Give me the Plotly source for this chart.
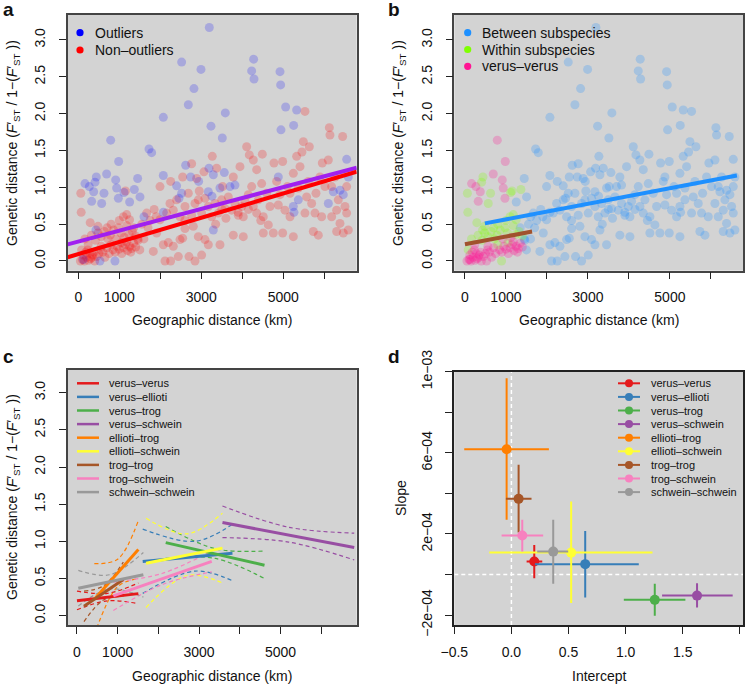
import plotly.graph_objects as go

W, H = 749, 684
def PX(x): return x / W
def PY(y): return 1 - y / H

FONT = "Liberation Sans, Arial, Helvetica, sans-serif"

# ---------------- Panel a/b scatter data (km, genetic distance) ----------------
# outliers, split by comparison class (panel b)
out_vv_x = [789, 984, 691, 163, 268, 374, 325, 911, 935, 976, 528, 120]
out_vv_y = [1.64, 1.35, 1.18, 1.05, 1.01, 0.94, 0.81, 1.10, 0.99, 0.85, 0.0, 0.02]
out_within_x = [407, 439, 569, 626, 1114, 1366, 894, 430]
out_within_y = [1.07, 1.14, 0.78, 0.92, 0.93, 0.97, 0.0, 0.42]
out_between_x = [1252, 1447, 1504, 1602, 3195, 2520, 2992, 2821, 2683, 2073, 4276, 4228, 4285, 4919, 4935,
                 5057, 5325, 5252, 4943, 3236, 3585, 3512, 1724, 1789, 2618, 2073, 2073, 2398, 2455, 2520,
                 2740, 2935, 3187, 3293, 3171, 3260, 3455, 3561, 3699, 3821, 3293, 4878, 5366, 5244, 5260,
                 6098, 6220, 6382, 6463, 6545, 6585]
out_between_y = [0.80, 1.12, 0.87, 0.60, 3.17, 2.70, 2.60, 2.34, 2.12, 1.95, 2.74, 2.58, 2.47, 2.57, 2.39,
                 2.09, 2.05, 1.84, 1.78, 1.83, 2.01, 1.67, 1.52, 1.47, 1.30, 1.16, 0.66, 1.02, 0.85, 0.92,
                 1.14, 1.08, 1.26, 1.17, 0.94, 0.88, 0.99, 1.20, 1.01, 1.03, 0.42, 1.14, 0.83, 0.74, 0.66,
                 0.78, 0.94, 0.96, 0.90, 1.38, 1.14]

# non-outliers
non_vv_x = [50, 100, 150, 200, 250, 300, 350, 400, 120, 180, 230, 280, 330, 380, 450, 500, 550, 600, 650,
            700, 750, 850, 900, 950, 1000, 1100, 1150, 1200, 1250, 1300, 1350, 1400, 240, 560, 920, 1120,
            1060, 1180, 1280]
non_vv_y = [0.0, 0.02, 0.0, 0.05, 0.01, 0.03, 0.08, 0.0, 0.08, 0.12, 0.15, 0.10, 0.05, 0.12, 0.06, 0.10,
            0.15, 0.12, 0.05, 0.18, 0.10, 0.15, 0.12, 0.20, 0.16, 0.18, 0.22, 0.14, 0.20, 0.17, 0.24, 0.19,
            0.22, 0.20, 0.30, 0.32, 0.10, 0.26, 0.12]
non_within_x = [80, 160, 320, 420, 480, 560, 640, 720, 780, 860, 980, 1040, 1180, 1240, 1320, 1400, 60, 70,
                290, 480, 700, 800, 1000, 1100, 1180, 1250, 800, 1050, 1150]
non_within_y = [0.15, 0.30, 0.35, 0.28, 0.38, 0.33, 0.40, 0.30, 0.35, 0.42, 0.45, 0.38, 0.48, 0.36, 0.40,
                0.34, 0.92, 0.66, 0.52, 0.47, 0.45, 0.50, 0.55, 0.60, 0.63, 0.56, 0.22, 0.25, 0.95]
non_between_x = [1350, 1450, 1500, 1460, 1550, 1600, 1700, 1750, 1850, 1900, 1667, 1829, 1911, 1992, 1992,
                 2114, 2252, 2439, 2699, 2846, 3008, 2073, 2195, 2317, 2480, 2545, 2602, 2805, 2927, 3089,
                 3171, 3455, 3780, 4024, 2154, 2236, 2317, 2398, 2480, 2602, 2683, 2764, 2846, 2927, 3008,
                 3089, 3171, 3252, 3333, 3415, 3496, 3577, 3659, 3740, 3821, 3902, 3984, 4065, 4024, 2252,
                 2545, 2764, 2886, 3065, 3268, 3374, 3520, 3780, 3943, 4106, 4171, 4268, 4350, 4488, 4146,
                 4228, 4268, 4390, 4512, 4593, 4675, 4772, 4837, 4919, 4984, 5041, 5098, 5163, 5244, 5325,
                 5407, 5455, 5488, 5528, 5610, 5634, 5691, 5732, 5797, 5854, 5894, 5951, 6016, 6098, 6122,
                 6138, 6179, 6260, 6301, 6341, 6382, 6447, 6463, 6504, 6545, 6585, 5528, 5244, 4634, 4756,
                 4512, 4350, 4472, 4878, 4984, 5163, 5366, 5569, 5772, 5935, 6179, 6301, 6545, 2600, 3350,
                 3600, 3900, 4150, 4450, 2950, 3500]
non_between_y = [0.45, 0.30, 0.15, 0.28, 0.50, 0.30, 0.45, 0.55, 0.70, 0.60, 0.65, 0.13, 0.38, 0.56, 1.01,
                 0.0, 0.0, 0.06, 0.06, 0.0, 0.08, 0.22, 0.25, 0.20, 0.29, 0.31, 0.44, 0.47, 0.33, 0.29,
                 0.22, 0.22, 0.35, 0.33, 0.65, 0.78, 0.69, 0.83, 0.60, 0.74, 0.92, 0.62, 0.78, 0.83, 0.65,
                 0.85, 0.74, 0.60, 0.78, 0.65, 0.83, 0.71, 0.87, 0.69, 0.78, 0.62, 0.74, 0.81, 0.60, 1.08,
                 1.14, 1.32, 1.12, 1.21, 1.42, 1.26, 1.01, 1.14, 1.28, 1.55, 1.44, 1.37, 1.24, 1.45, 0.90,
                 1.01, 0.74, 0.83, 0.60, 0.92, 0.74, 1.33, 1.08, 0.90, 1.35, 0.69, 1.01, 0.60, 1.19, 1.42,
                 1.28, 1.48, 1.62, 0.65, 1.08, 1.55, 0.78, 0.40, 0.92, 0.35, 1.14, 1.33, 1.01, 1.37, 1.81,
                 1.71, 0.60, 1.14, 0.40, 0.83, 0.51, 1.69, 0.38, 0.74, 1.01, 0.42, 2.03, 0.33, 0.49, 0.38,
                 0.38, 0.65, 1.05, 0.76, 0.38, 0.92, 0.99, 0.87, 0.65, 0.60, 1.01, 0.69, 0.65, 0.55, 0.50,
                 0.58, 0.66, 0.70, 0.55, 0.95, 0.70]

# regression lines (intercept, slope per km)
fit_a_outliers = (0.264, 1.477e-4)
fit_a_non = (0.093, 1.646e-4)
fit_b_between = (0.4585, 1.057e-4, 487, 6634)
fit_b_within = (0.226, 1.06e-4, 0, 1638)

# ---------------- Panel c / d : per comparison ----------------
comparisons = ["verus\u2013verus", "verus\u2013ellioti", "verus\u2013trog", "verus\u2013schwein",
               "ellioti\u2013trog", "ellioti\u2013schwein", "trog\u2013trog", "trog\u2013schwein",
               "schwein\u2013schwein"]
colors = ["#E41A1C", "#377EB8", "#4DAF4A", "#984EA3", "#FF7F00", "#FFFF33", "#A65628", "#F781BF", "#999999"]
intercept = [0.200, 0.646, 1.255, 1.625, -0.042, 0.523, 0.063, 0.095, 0.366]
intercept_lo = [0.133, 0.206, 0.984, 1.319, -0.413, -0.194, -0.048, -0.086, 0.226]
intercept_hi = [0.270, 1.115, 1.523, 1.937, 0.328, 1.235, 0.176, 0.278, 0.497]
slope = [6.4e-5, 5.1e-5, -1.25e-4, -1.04e-4, 6.18e-4, 1.08e-4, 3.73e-4, 1.92e-4, 1.13e-4]
slope_lo = [-1.8e-5, -1.13e-4, -2.04e-4, -1.63e-4, 2.7e-4, -1.41e-4, 2.07e-4, 1.13e-4, -4.6e-5]
slope_hi = [1.46e-4, 2.15e-4, -4.6e-5, -4.3e-5, 9.68e-4, 3.6e-4, 5.41e-4, 2.7e-4, 2.7e-4]
dist_min = [0, 1615, 2180, 3574, 426, 1697, 172, 893, 33]
dist_max = [1508, 3820, 4607, 6811, 1508, 3574, 1139, 3311, 1631]
ci_x = [[0, 750, 1508], [1615, 2900, 3820], [2180, 3400, 4607], [3574, 5200, 6811], [426, 1000, 1508],
        [1697, 2700, 3574], [172, 650, 1139], [893, 2100, 3311], [33, 800, 1631]]
ci_upper = [[0.33, 0.30, 0.44], [1.165, 1.00, 1.23], [1.20, 0.90, 0.87], [1.475, 1.19, 1.11],
            [0.70, 0.76, 1.28], [1.31, 1.10, 1.38], [0.33, 0.40, 0.72], [0.45, 0.57, 0.87],
            [0.61, 0.55, 0.85]]
ci_lower = [[0.08, 0.20, 0.16], [0.30, 0.60, 0.47], [0.77, 0.77, 0.50], [1.05, 0.99, 0.75],
            [-0.26, 0.39, 0.50], [0.11, 0.54, 0.44], [-0.08, 0.21, 0.26], [0.07, 0.42, 0.59],
            [0.13, 0.36, 0.25]]

geo_ticks = [0, 1000, 3000, 5000]
geo_ticktext = ["0", "1000", "3000", "5000"]
geo_minor = [2000, 4000, 6000]
gd_ticks = [0, 0.5, 1.0, 1.5, 2.0, 2.5, 3.0]
gd_ticktext = ["0.0", "0.5", "1.0", "1.5", "2.0", "2.5", "3.0"]
int_ticks = [-0.5, 0, 0.5, 1.0, 1.5, 2.0]
int_ticktext = ["\u22120.5", "0.0", "0.5", "1.0", "1.5", "2.0"]
slope_ticks = [-2e-4, 2e-4, 6e-4, 1e-3]
slope_ticktext = ["\u22122e\u221204", "2e\u221204", "6e\u221204", "1e\u221203"]
slope_minor = [0, 4e-4, 8e-4]

XR_AB = [-259, 6790]
YR_AB = [-0.132, 3.339]
XR_C = [-228, 6872]
YR_C = [-0.1256, 3.305]
XR_D = [-0.5, 2.03]
YR_D = [-2.49e-4, 1.0e-3]

fig = go.Figure()

def rgba(hexc, a):
    h = hexc.lstrip("#")
    return "rgba(%d,%d,%d,%s)" % (int(h[0:2], 16), int(h[2:4], 16), int(h[4:6], 16), a)

# ---- panel a ----
fig.add_trace(go.Scatter(x=non_vv_x + non_within_x + non_between_x, y=non_vv_y + non_within_y + non_between_y,
                         mode="markers", marker=dict(size=9, color=rgba("#FF0000", 0.22), line=dict(width=0)),
                         xaxis="x", yaxis="y", showlegend=False))
fig.add_trace(go.Scatter(x=out_vv_x + out_within_x + out_between_x, y=out_vv_y + out_within_y + out_between_y,
                         mode="markers", marker=dict(size=9, color=rgba("#0000FF", 0.2), line=dict(width=0)),
                         xaxis="x", yaxis="y", showlegend=False))
for (b0, b1), col in [(fit_a_outliers, "#A020F0"), (fit_a_non, "#FF0000")]:
    fig.add_trace(go.Scatter(x=XR_AB, y=[b0 + b1 * XR_AB[0], b0 + b1 * XR_AB[1]], mode="lines",
                             line=dict(color=col, width=4), xaxis="x", yaxis="y", showlegend=False))

# ---- panel b ----
for xs, ys, col in [(out_between_x + non_between_x, out_between_y + non_between_y, "#1E90FF"),
                    (out_within_x + non_within_x, out_within_y + non_within_y, "#7FFF00"),
                    (out_vv_x + non_vv_x, out_vv_y + non_vv_y, "#FF1493")]:
    fig.add_trace(go.Scatter(x=xs, y=ys, mode="markers",
                             marker=dict(size=9, color=rgba(col, 0.25), line=dict(width=0)),
                             xaxis="x2", yaxis="y2", showlegend=False))
for (b0, b1, x0, x1), col in [(fit_b_between, "#1E90FF"), (fit_b_within, "#A0522D")]:
    fig.add_trace(go.Scatter(x=[x0, x1], y=[b0 + b1 * x0, b0 + b1 * x1], mode="lines",
                             line=dict(color=col, width=4), xaxis="x2", yaxis="y2", showlegend=False))

# ---- panel c ----
for i in range(len(comparisons)):
    for arr in (ci_upper[i], ci_lower[i]):
        fig.add_trace(go.Scatter(x=ci_x[i], y=arr, mode="lines",
                                 line=dict(color=colors[i], width=1.2, dash="4px,3px", shape="spline"),
                                 xaxis="x3", yaxis="y3", showlegend=False))
for i in range(len(comparisons)):
    x0, x1 = dist_min[i], dist_max[i]
    fig.add_trace(go.Scatter(x=[x0, x1], y=[intercept[i] + slope[i] * x0, intercept[i] + slope[i] * x1],
                             mode="lines", line=dict(color=colors[i], width=3),
                             xaxis="x3", yaxis="y3", showlegend=False))

# ---- panel d ----
for i in range(len(comparisons)):
    fig.add_trace(go.Scatter(
        x=[intercept[i]], y=[slope[i]], mode="markers",
        marker=dict(size=10, color=colors[i]),
        error_x=dict(type="data", symmetric=False, array=[intercept_hi[i] - intercept[i]],
                     arrayminus=[intercept[i] - intercept_lo[i]], width=0, thickness=2, color=colors[i]),
        error_y=dict(type="data", symmetric=False, array=[slope_hi[i] - slope[i]],
                     arrayminus=[slope[i] - slope_lo[i]], width=0, thickness=2, color=colors[i]),
        xaxis="x4", yaxis="y4", showlegend=False))

shapes = []
shapes.append(dict(type="line", xref="x4", yref="y4", x0=0, x1=0, y0=YR_D[0], y1=YR_D[1],
                   line=dict(color="white", width=1.5, dash="4px,3px"), layer="below"))
shapes.append(dict(type="line", xref="x4", yref="y4", x0=XR_D[0], x1=XR_D[1], y0=0, y1=0,
                   line=dict(color="white", width=1.5, dash="4px,3px"), layer="below"))

annotations = []
def text(x, y, s, size=14, xanchor="center", yanchor="middle", angle=0, bold=False, color="#111"):
    annotations.append(dict(x=PX(x), y=PY(y), xref="paper", yref="paper", text=("<b>%s</b>" % s) if bold else s,
                            showarrow=False, xanchor=xanchor, yanchor=yanchor, textangle=angle,
                            font=dict(family=FONT, size=size, color=color)))

def dot(cx, cy, r, col):
    shapes.append(dict(type="circle", xref="paper", yref="paper", x0=PX(cx - r), x1=PX(cx + r),
                       y0=PY(cy + r), y1=PY(cy - r), fillcolor=col, line=dict(width=0)))

def seg(x0, x1, y, col, w):
    shapes.append(dict(type="line", xref="paper", yref="paper", x0=PX(x0), x1=PX(x1), y0=PY(y), y1=PY(y),
                       line=dict(color=col, width=w)))

# legends a and b
for k, (lab, col) in enumerate([("Outliers", "#0000FF"), ("Non\u2013outliers", "#FF0000")]):
    dot(80, 32.7 + 17.3 * k, 3.6, col)
    text(93, 32.7 + 17.3 * k, lab, xanchor="left")
for k, (lab, col) in enumerate([("Between subspecies", "#1E90FF"), ("Within subspecies", "#7FFF00"),
                                ("verus\u2013verus", "#FF1493")]):
    dot(467.7, 32.7 + 16.8 * k, 3.6, col)
    text(480, 32.7 + 16.8 * k, lab, xanchor="left")
# legends c and d
for k in range(len(comparisons)):
    yy = 383.3 + 13.6 * k
    seg(77, 99, yy, colors[k], 2.5)
    text(107, yy, comparisons[k], size=11, xanchor="left")
    seg(618, 640, yy, colors[k], 2)
    dot(629, yy, 4, colors[k])
    text(649, yy, comparisons[k], size=11, xanchor="left")

# panel letters
text(1, 9, "a", size=19, xanchor="left", bold=True)
text(386, 9, "b", size=19, xanchor="left", bold=True)
text(1, 356, "c", size=19, xanchor="left", bold=True)
text(386, 356, "d", size=19, xanchor="left", bold=True)

ytitle = "Genetic distance (<i>F</i>\u2032<sub>ST</sub> / 1\u2212(<i>F</i>\u2032<sub>ST</sub> ))"
text(212, 320, "Geographic distance (km)")
text(599, 320, "Geographic distance (km)")
text(212, 676, "Geographic distance (km)")
text(599, 676, "Intercept")
text(13, 143, ytitle, angle=-90)
text(399, 143, ytitle, angle=-90)
text(13, 497, ytitle, angle=-90)
text(401, 498, "Slope", angle=-90)

fig.update_layout(shapes=shapes, annotations=annotations)

def axis(domain, rng, tv, tt, anchor, minor_vals=None, is_y=False, lc="#444", lw=1.5):
    d = dict(domain=domain, range=rng, tickmode="array", tickvals=tv, ticktext=tt, anchor=anchor,
             automargin=False, showgrid=False, zeroline=False, showline=True, mirror=True,
             linecolor=lc, linewidth=lw,
             ticks="outside", ticklen=7, tickwidth=1.2, tickcolor="#222",
             tickfont=dict(family=FONT, size=14, color="#111"), ticklabelstandoff=6)
    if minor_vals:
        d["minor"] = dict(tickmode="array", tickvals=minor_vals, ticks="outside", ticklen=7,
                          tickwidth=1.2, tickcolor="#222", showgrid=False)
    if is_y:
        d["tickangle"] = -90
        d["ticklabelstandoff"] = 8
    return d

DXL = [67.7 / W, 356.7 / W]
DXR = [454.3 / W, 743.3 / W]
DYT = [1 - 270.7 / H, 1 - 15 / H]
DYB = [1 - 625 / H, 1 - 370 / H]
DYBD = [1 - 625 / H, 1 - 371.7 / H]

fig.update_layout(
    width=W, height=H, margin=dict(l=0, r=0, t=0, b=0, pad=0, autoexpand=False),
    paper_bgcolor="white", plot_bgcolor="#D3D3D3", showlegend=False, hovermode=False,
    xaxis=axis(DXL, XR_AB, geo_ticks, geo_ticktext, "y", geo_minor),
    yaxis=axis(DYT, YR_AB, gd_ticks, gd_ticktext, "x", None, True),
    xaxis2=axis(DXR, XR_AB, geo_ticks, geo_ticktext, "y2", geo_minor),
    yaxis2=axis(DYT, YR_AB, gd_ticks, gd_ticktext, "x2", None, True),
    xaxis3=axis(DXL, XR_C, geo_ticks, geo_ticktext, "y3", geo_minor),
    yaxis3=axis(DYB, YR_C, gd_ticks, gd_ticktext, "x3", None, True),
    xaxis4=axis(DXR, XR_D, int_ticks, int_ticktext, "y4", None, lc="#222", lw=2),
    yaxis4=axis(DYBD, YR_D, slope_ticks, slope_ticktext, "x4", slope_minor, True, lc="#222", lw=2),
)

fig.write_html("out.html", config={"displayModeBar": False},
               post_script="document.body.style.margin='0';document.body.style.overflow='hidden';")
